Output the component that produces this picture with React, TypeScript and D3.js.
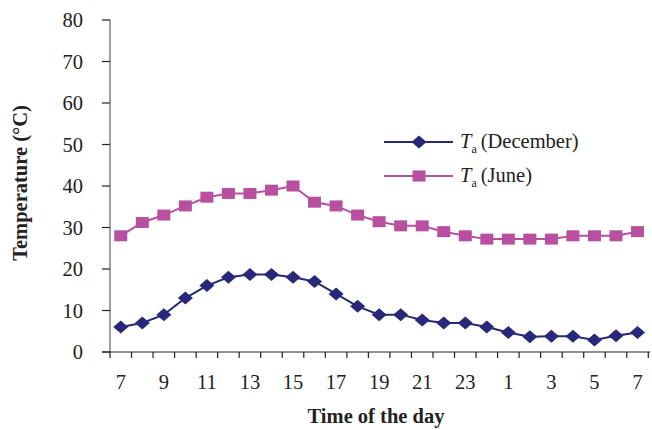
import React from "react";
import * as d3 from "d3";

const hours = [7, 8, 9, 10, 11, 12, 13, 14, 15, 16, 17, 18, 19, 20, 21, 22, 23, 0, 1, 2, 3, 4, 5, 6, 7];
const categories = hours.map((h, i) => `${i}`);
const december = [6, 7, 9, 13, 16, 18, 18.7, 18.7, 18, 17, 14, 11, 9, 9, 7.7, 7, 7, 6, 4.7, 3.7, 3.8, 3.8, 2.9, 3.9, 4.7];
const june = [28, 31.2, 33, 35.2, 37.3, 38.2, 38.2, 39, 40, 36.1, 35.2, 33, 31.4, 30.4, 30.4, 29, 28, 27.2, 27.2, 27.2, 27.2, 28, 28, 28, 29];
const xTickLabels = ["7", "9", "11", "13", "15", "17", "19", "21", "23", "1", "3", "5", "7"];
const yTicks = [0, 10, 20, 30, 40, 50, 60, 70, 80];

const W = 652, H = 430;
const m = { left: 110, right: 4, top: 20, bottom: 78 };
const DEC = "#27287A";
const JUN = "#B8509F";
const FONT = "'Liberation Serif', 'Times New Roman', serif";
const FS = 20.5;

export default function App() {
  const x = d3.scaleBand().domain(categories).range([m.left, 648.3]).paddingInner(0).paddingOuter(0);
  const y = d3.scaleLinear().domain([0, 80]).range([H - m.bottom, m.top]);
  const cx = (i: number) => (x(categories[i]) as number) + x.bandwidth() / 2;
  const line = d3.line<number>().x((_, i) => cx(i)).y((d) => y(d));
  const tickXs = categories.map((c) => x(c) as number).concat([648.3]);
  const diamond = (px: number, py: number) => `M${px - 7.5},${py} L${px},${py - 6.5} L${px + 7.5},${py} L${px},${py + 6.5} Z`;

  return (
    <svg width={W} height={H} style={{ position: "absolute", left: 0, top: 0, background: "#fff" }} fontFamily={FONT}>
      {/* Y axis */}
      <line x1={m.left} x2={m.left} y1={y(80)} y2={y(0)} stroke="#8a8a8a" strokeWidth={1.6} />
      {yTicks.map((t) => (
        <g key={t}>
          <line x1={m.left - 8} x2={m.left} y1={y(t)} y2={y(t)} stroke="#222" strokeWidth={1.2} />
          <text x={83} y={y(t)} dy="0.35em" textAnchor="end" fontSize={FS} fill="#222">{t}</text>
        </g>
      ))}
      {/* X axis */}
      <line x1={m.left - 8} x2={650} y1={y(0)} y2={y(0)} stroke="#222" strokeWidth={1.2} />
      {tickXs.map((tx, i) => (
        <line key={i} x1={tx} x2={tx} y1={y(0)} y2={y(0) + 6} stroke="#222" strokeWidth={1.2} />
      ))}
      {xTickLabels.map((l, k) => (
        <text key={k} x={cx(k * 2)} y={389} textAnchor="middle" fontSize={FS} fill="#222">{l}</text>
      ))}
      {/* Axis titles */}
      <text x={376} y={423} textAnchor="middle" fontSize={FS} fontWeight="bold" fill="#222">Time of the day</text>
      <text transform={`translate(27,${183}) rotate(-90)`} textAnchor="middle" fontSize={FS} fontWeight="bold" fill="#222">Temperature (°C)</text>
      {/* Series */}
      <path d={line(june) || ""} fill="none" stroke={JUN} strokeWidth={2} />
      {june.map((v, i) => (
        <rect key={i} x={cx(i) - 6.5} y={y(v) - 5.5} width={13} height={11} fill={JUN} />
      ))}
      <path d={line(december) || ""} fill="none" stroke={DEC} strokeWidth={2} />
      {december.map((v, i) => (
        <path key={i} d={diamond(cx(i), y(v))} fill={DEC} />
      ))}
      {/* Legend */}
      <g>
        <line x1={384} x2={453} y1={142} y2={142} stroke={DEC} strokeWidth={2} />
        <path d={diamond(419, 142)} fill={DEC} />
        <text x={460} y={148} fontSize={FS} fill="#222"><tspan fontStyle="italic">T</tspan><tspan fontSize={12} dy={5}>a</tspan><tspan dy={-5} dx={4}>(December)</tspan></text>
        <line x1={384} x2={453} y1={176} y2={176} stroke={JUN} strokeWidth={2} />
        <rect x={419 - 6.5} y={176 - 5.5} width={13} height={11} fill={JUN} />
        <text x={460} y={182} fontSize={FS} fill="#222"><tspan fontStyle="italic">T</tspan><tspan fontSize={12} dy={5}>a</tspan><tspan dy={-5} dx={4}>(June)</tspan></text>
      </g>
    </svg>
  );
}
